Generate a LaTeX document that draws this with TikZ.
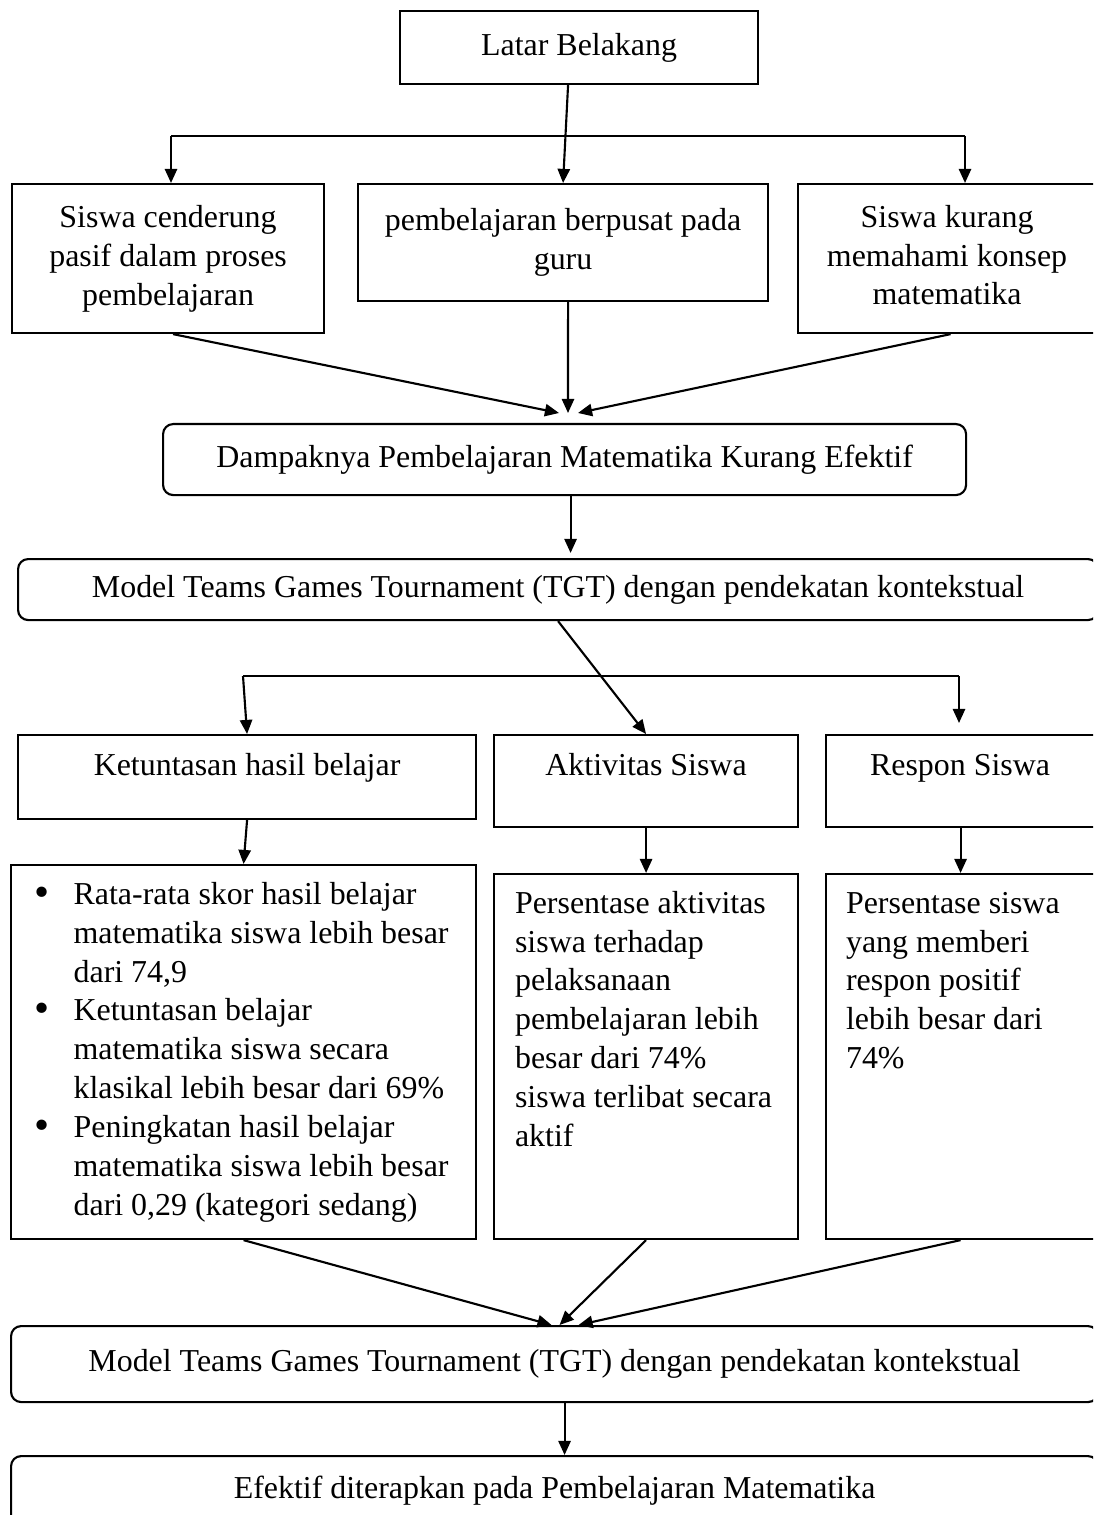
\documentclass[tikz,border=0pt]{standalone}
\usepackage{fontspec}
\setmainfont{Liberation Serif}
\usetikzlibrary{arrows.meta,calc}
\newlength\px
\setlength\px{0.376pt}
\newcommand{\topbox}[4]{\parbox[c][#1\px][t]{#2\px}{\vspace*{#3\px}#4}}
\newcommand{\bul}{\makebox[35\px][l]{\hspace*{-4\px}\raisebox{-0.7pt}{\scalebox{1.35}{\textbullet}}}}
\tikzset{
  box/.style={draw, line width=0.8pt, inner sep=0pt, anchor=north west, align=center,
    font=\fontsize{12pt}{14.6pt}\selectfont},
  roundbox/.style={box, rounded corners=3.8pt},
  arrow/.style={line width=0.8pt, -{Triangle[length=5.3pt, width=4.6pt]}},
  link/.style={line width=0.8pt},
}
\begin{document}
\begin{tikzpicture}[x=0.376pt, y=-0.376pt]
  \useasboundingbox (0,0) rectangle (1093,1515);
  \clip (0,0) rectangle (1093,1515);
  % latar belakang dan masalah
  \node[box, minimum width=358\px, minimum height=73\px] (latar) at (399,10) {Latar Belakang};
  \node[box, minimum width=312\px, minimum height=149\px] (pasif) at (11,183) {Siswa cenderung\\pasif dalam proses\\pembelajaran};
  \node[box, minimum width=410\px, minimum height=117\px] (guru) at (357,183) {pembelajaran berpusat pada\\guru};
  \node[box] (konsep) at (797,183) {\topbox{149}{313}{16}{\centering\rightskip=15\px plus 1fil\strut Siswa kurang\\memahami konsep\\matematika}};
  \node[roundbox, minimum width=803\px, minimum height=71\px] (dampak) at (162,423) {Dampaknya Pembelajaran Matematika Kurang Efektif};
  \node[roundbox, minimum width=1080\px, minimum height=61\px] (tgt1) at (17,558) {Model Teams Games Tournament (TGT) dengan pendekatan kontekstual};
  % indikator
  \node[box] (tuntas) at (17,734) {\topbox{84}{458}{13}{\centering\strut Ketuntasan hasil belajar}};
  \node[box] (aktiv) at (493,734) {\topbox{92}{304}{13}{\centering\strut Aktivitas Siswa}};
  \node[box] (respon) at (825,734) {\topbox{92}{285}{13}{\centering\rightskip=17\px plus 1fil\strut Respon Siswa}};
  \node[box, align=left, minimum width=465\px, minimum height=374\px] (hasil) at (10,864) {%
    \bul Rata-rata skor hasil belajar\\
    \hspace*{35\px}matematika siswa lebih besar\\
    \hspace*{35\px}dari 74,9\\
    \bul Ketuntasan belajar\\
    \hspace*{35\px}matematika siswa secara\\
    \hspace*{35\px}klasikal lebih besar dari 69\%\\
    \bul Peningkatan hasil belajar\\
    \hspace*{35\px}matematika siswa lebih besar\\
    \hspace*{35\px}dari 0,29 (kategori sedang)};
  \node[box] (akttext) at (493,873) {\topbox{365}{304}{12}{\raggedright\leftskip=21\px\strut Persentase aktivitas\\siswa terhadap\\pelaksanaan\\pembelajaran lebih\\besar dari 74\%\\siswa terlibat secara\\aktif}};
  \node[box] (restext) at (825,873) {\topbox{365}{285}{12}{\raggedright\leftskip=20\px\strut Persentase siswa\\yang memberi\\respon positif\\lebih besar dari\\74\%}};
  % kesimpulan
  \node[roundbox, minimum width=1087\px, minimum height=76\px] (tgt2) at (10,1325) {Model Teams Games Tournament (TGT) dengan pendekatan kontekstual};
  \node[roundbox, minimum width=1087\px, minimum height=70\px] (efektif) at (10,1455) {Efektif diterapkan pada Pembelajaran Matematika};
  % panah
  \coordinate (forkL) at (171,136);
  \coordinate (forkR) at (965,136);
  \draw[arrow] ($(latar.south)+(-11,0)$) -- (guru.north);
  \draw[link] (forkL) -- (forkR);
  \draw[arrow] (forkL) -- (forkL |- pasif.north);
  \draw[arrow] (forkR) -- (forkR |- konsep.north);
  \coordinate (meetA) at (568,413);
  \draw[arrow] ($(pasif.south)+(5,0)$) -- ($(meetA)+(-9,0)$);
  \draw[arrow] ($(guru.south)+(5,0)$) -- (meetA);
  \draw[arrow] ($(konsep.south)+(-4,0)$) -- ($(meetA)+(10,0)$);
  \draw[arrow] ($(dampak.south)+(6,0)$) -- ($(dampak.south |- tgt1.north)+(6,-5)$);
  \draw[arrow] (tgt1.south) -- (aktiv.north);
  \coordinate (forkP) at (243,676);
  \coordinate (forkQ) at (959,676);
  \draw[link] (forkP) -- (forkQ);
  \draw[arrow] (forkP) -- (tuntas.north);
  \draw[arrow] (forkQ) -- ($(forkQ |- respon.north)+(0,-11)$);
  \draw[arrow] (tuntas.south) -- (hasil.north);
  \draw[arrow] (aktiv.south) -- (akttext.north);
  \draw[arrow] ($(respon.south)+(-8,0)$) -- ($(restext.north)+(-8,0)$);
  \draw[arrow] (hasil.south) -- ($(tgt2.north)+(-3,0)$);
  \draw[arrow] (akttext.south) -- ($(tgt2.north)+(5,0)$);
  \draw[arrow] ($(restext.south)+(-8,0)$) -- ($(tgt2.north)+(24,0)$);
  \draw[arrow] ($(tgt2.south)+(10,0)$) -- ($(efektif.north)+(10,0)$);
\end{tikzpicture}
\end{document}
